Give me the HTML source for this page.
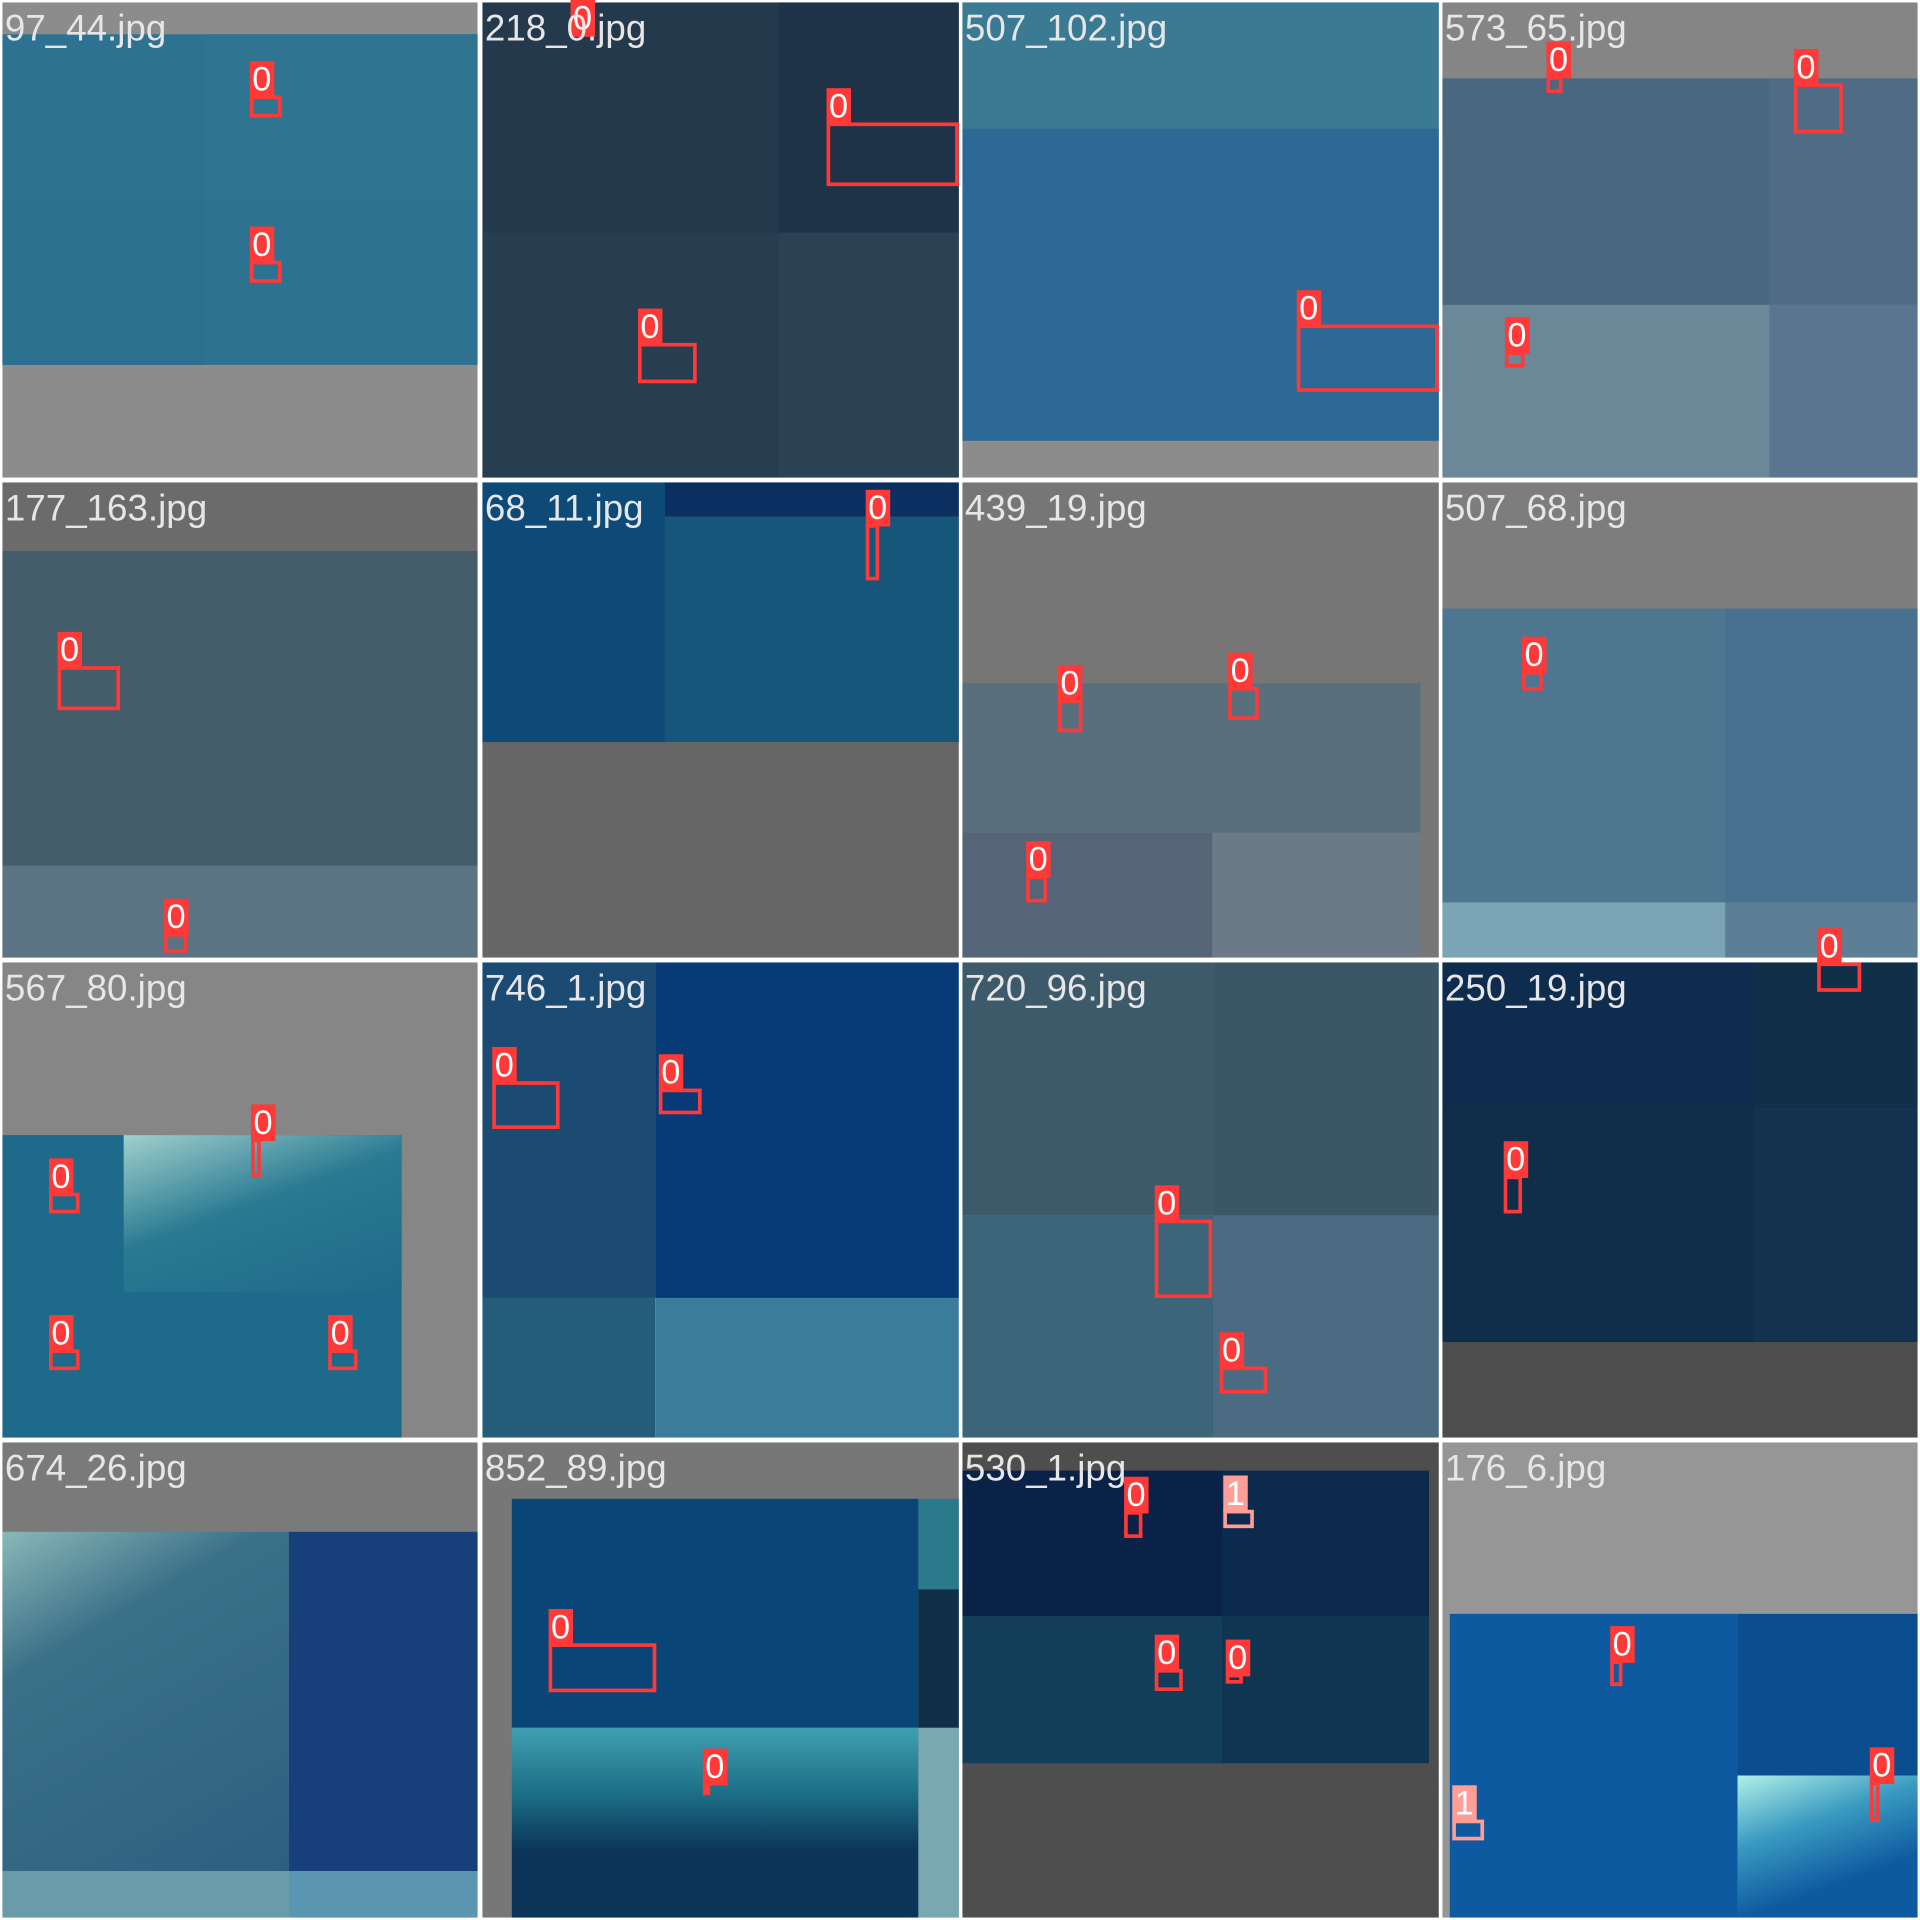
<!DOCTYPE html>
<html><head><meta charset="utf-8">
<style>
html,body{margin:0;padding:0;background:#fff;width:1920px;height:1920px;overflow:hidden}
#wrap{position:absolute;left:0;top:0;width:1568px;height:1568px;transform:scale(1.22449);transform-origin:0 0;background:#fff}
.r{position:absolute}
.fn{position:absolute;font-family:"Liberation Sans",sans-serif;font-size:30px;color:#e6e6e6;line-height:1;white-space:nowrap}
.bx{position:absolute;box-sizing:border-box;border:3px solid #ff3838}
.lb{position:absolute;font-family:"Liberation Sans",sans-serif;font-size:28px;line-height:30px;color:#fff;background:#ff3838;padding:0 2px}
</style></head>
<body>
<div id="wrap"></div>
<script>
// background regions: x1,y1,x2,y2,color
const regions = [
[2,2,390,390,'#8c8c8c'],[2,28,390,298,'#2d7391'],[167,28,390,163,'#2f7592'],[2,163,167,298,'#2c7090'],
[394,2,783,390,'#24394b'],[636,2,783,190,'#1e3348'],[394,190,636,390,'#263e50'],[636,190,783,390,'#2a4253'],
[786,2,1175,390,'#8c8c8c'],[786,2,1175,105,'#3b7a93'],[786,105,1175,360,'#2c6996'],
[1178,2,1566,390,'#858585'],[1178,64,1445,249,'#4a6781'],[1445,64,1566,249,'#506c85'],[1178,249,1445,390,'#6b8898'],[1445,249,1566,390,'#5b7590'],
[2,394,390,782,'#6b6b6b'],[2,450,390,707,'#435d6a'],[2,707,390,782,'#5a7484'],
[394,394,783,782,'#666666'],[394,394,543,606,'#0d4a78'],[543,394,783,422,'#0b2f60'],[543,422,783,606,'#17567b'],
[786,394,1175,782,'#767676'],[786,558,1160,680,'#5a6f7e'],[786,680,990,782,'#556577'],[990,680,1160,782,'#6c7a88'],
[1178,394,1566,782,'#7d7d7d'],[1178,497,1409,737,'#4f7690'],[1409,497,1566,737,'#4a7090'],[1178,737,1409,782,'#7ba5b5'],[1409,737,1566,782,'#5c7f96'],
[2,786,390,1174,'#868686'],[2,927,328,1174,'#1e6a8a'],[101,927,328,1055,'linear-gradient(160deg,#9fd0cc,#2a7a92 45%,#1e6a8a)'],
[394,786,535,1060,'#1b4b72'],[535,786,783,1060,'#063b78'],[394,1060,535,1174,'#245d7a'],[535,1060,783,1174,'#3a7c9a'],
[786,786,991,993,'#3d5a6a'],[991,786,1175,993,'#3b5767'],[786,993,991,1174,'#3d6579'],[991,993,1175,1174,'#4b6b83'],
[1178,786,1566,1174,'#4d4d4d'],[1178,786,1432,905,'#0d2c4e'],[1432,786,1566,905,'#0f3048'],[1178,905,1432,1096,'#0e2e4a'],[1432,905,1566,1096,'#14324f'],
[2,1178,390,1566,'#7a7a7a'],[2,1251,236,1528,'linear-gradient(150deg,#8ab8b8,#3a7088 30%,#2d6080)'],[236,1251,390,1528,'#173f7a'],[2,1528,236,1566,'#6a9ba8'],[236,1528,390,1566,'#5a96b0'],
[394,1178,783,1566,'#777777'],[418,1224,750,1411,'#0a4577'],[750,1224,783,1298,'#2a7a8c'],[750,1298,783,1411,'#10304a'],[418,1411,750,1566,'linear-gradient(180deg,#3fa0b0,#1c6e86 35%,#0b3458 65%,#0b3458)'],[750,1411,783,1566,'#7aa8b0'],
[786,1178,1175,1566,'#4e4e4e'],[786,1201,998,1320,'#0a2248'],[998,1201,1167,1320,'#0b2a4c'],[786,1320,998,1440,'#123e5a'],[998,1320,1167,1440,'#0f3552'],
[1178,1178,1566,1566,'#969696'],[1184,1318,1419,1450,'#0d5aa0'],[1419,1318,1566,1450,'#0a4e90'],[1184,1450,1419,1566,'#0e5aa0'],[1419,1450,1566,1566,'linear-gradient(160deg,#b0f0e8,#3a9ac0 35%,#0e5aa0 70%)']
];
const names = ['97_44.jpg','218_0.jpg','507_102.jpg','573_65.jpg','177_163.jpg','68_11.jpg','439_19.jpg','507_68.jpg','567_80.jpg','746_1.jpg','720_96.jpg','250_19.jpg','674_26.jpg','852_89.jpg','530_1.jpg','176_6.jpg'];
const boxX1 = [204,204,675,521,466,1059,1263,1465,1229,47,134,707,864,1003,838,1243,1484,40,205,40,268,402,538,943,996,1228,448,574,918,999,943,1001,1315,1186,1527];
const boxY1 = [78,213,100,280,0,265,62,68,287,544,762,428,571,561,715,548,786,974,930,1102,1102,883,889,996,1116,960,1342,1456,1234,1233,1363,1367,1356,1486,1455];
const boxX2 = [230,230,783,569,483,1175,1276,1505,1245,98,153,718,884,1028,855,1260,1520,65,213,65,292,457,573,990,1035,1243,536,579,933,1024,966,1015,1325,1212,1535];
const boxY2 = [96,231,152,313,30,320,76,109,300,580,778,474,598,588,737,564,810,991,962,1119,1119,922,910,1060,1138,991,1382,1466,1256,1248,1381,1375,1377,1503,1488];
const boxCls = [0,0,0,0,0,0,0,0,0,0,0,0,0,0,0,0,0,0,0,0,0,0,0,0,0,0,0,0,0,1,0,0,0,1,0];
const W = document.getElementById('wrap');
regions.forEach(function(g){
  const d=document.createElement('div');
  
  
  d.className='r';
  d.style.left=g[0]+'px';d.style.top=g[1]+'px';d.style.width=(g[2]-g[0])+'px';d.style.height=(g[3]-g[1])+'px';d.style.background=g[4];
  W.appendChild(d);
});
boxX1.forEach(function(x,i){
  const col = boxCls[i]===1?'#ff9d97':'#ff3838';
  const b=document.createElement('div');
  
  
  b.className='bx';
  b.style.left=x+'px';b.style.top=boxY1[i]+'px';b.style.width=Math.max(6,boxX2[i]-x)+'px';b.style.height=Math.max(6,boxY2[i]-boxY1[i])+'px';b.style.borderColor=col;
  W.appendChild(b);
  const l=document.createElement('div');
  
  
  l.className='lb';
  l.textContent=String(boxCls[i]);
  l.style.background=col;
  l.style.left=x+'px';l.style.top=Math.max(0,boxY1[i]-28)+'px';
  W.appendChild(l);
});
names.forEach(function(n,i){
  const c=i%4, r=Math.floor(i/4);
  const t=document.createElement('div');
  
  
  t.className='fn';
  t.textContent=n;
  t.style.left=(4+c*392)+'px';t.style.top=(9+r*392)+'px';
  W.appendChild(t);
});
</script>
</body></html>
